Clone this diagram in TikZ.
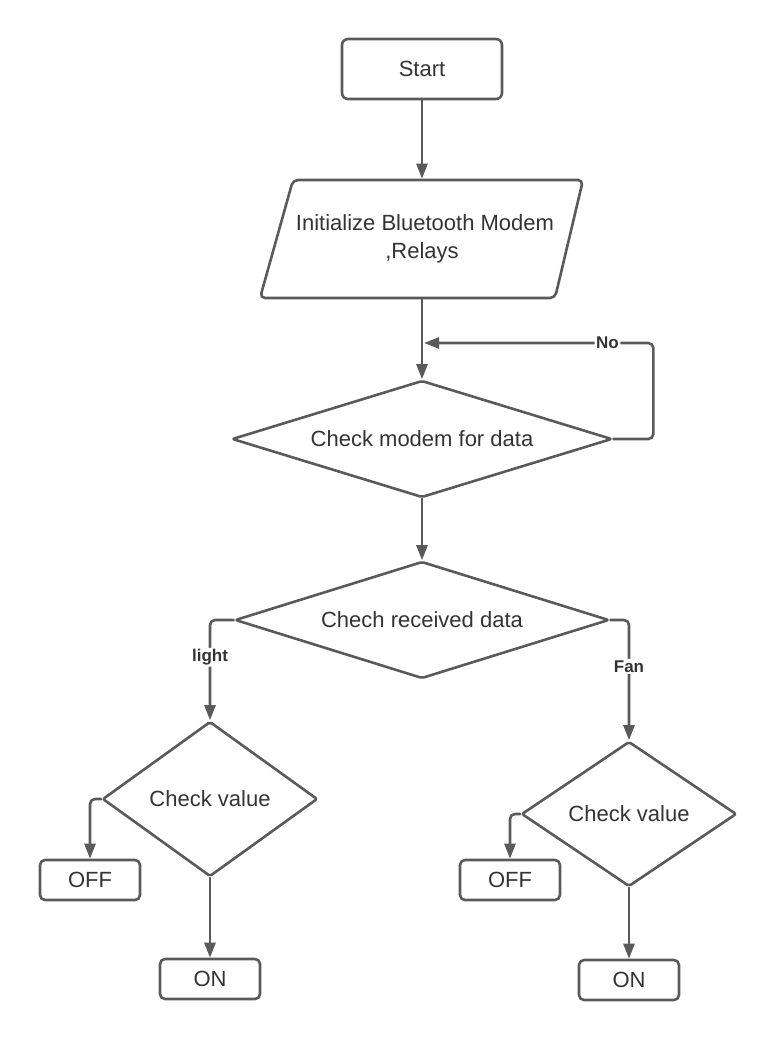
\documentclass[tikz,border=0pt]{standalone}
\usepackage{fontspec}
\setmainfont{Liberation Sans}
\usetikzlibrary{arrows.meta,shapes.geometric}
\definecolor{edge}{HTML}{5A5A5A}
\definecolor{ink}{HTML}{333333}
\tikzset{
  every picture/.style={line join=round, line cap=round, >={Triangle[length=15pt,width=11pt]}},
  base/.style={draw=edge, line width=2.6pt, text=ink, font=\fontsize{22}{28}\selectfont, align=center},
  term/.style={base, rectangle, rounded corners=6pt, minimum width=160pt, minimum height=60pt},
  outbox/.style={base, rectangle, rounded corners=5pt, minimum width=100pt, minimum height=40pt},
  io/.style={base, draw=none, rectangle, minimum width=290pt, minimum height=118pt},
  decide/.style={base, diamond, inner sep=0pt, rounded corners=2pt},
  flow/.style={draw=edge, line width=2.6pt, ->, rounded corners=5pt},
  lbl/.style={fill=white, text=ink, font=\bfseries\fontsize{17}{20}\selectfont, inner sep=1.5pt},
}

\begin{document}
\begin{tikzpicture}[x=1pt, y=-1pt]
\useasboundingbox (0,0) rectangle (780,1040);
% main column
\node[term] (start) at (422,69) {Start};
\node[io] (init) at (422,239) {\hspace*{6pt}Initialize Bluetooth Modem\\,Relays};
\draw[base, rounded corners=5pt] (293,180) -- (583,180) -- (555,298) -- (260,298) -- cycle;
\node[decide, minimum width=380pt, minimum height=117pt, aspect=3.25] (chk) at (422,439) {Check modem for data};
\node[decide, minimum width=374pt, minimum height=117pt, aspect=3.2] (rcv) at (422,620) {Chech received data};
% light branch
\node[decide, minimum width=215pt, minimum height=155pt, aspect=1.39] (chkL) at (210,799) {Check value};
\node[outbox] (offL) at (90,880) {OFF};
\node[outbox] (onL) at (210,979) {ON};
% fan branch
\node[decide, minimum width=215pt, minimum height=145pt, aspect=1.48] (chkR) at (629,814) {Check value};
\node[outbox] (offR) at (510,880) {OFF};
\node[outbox] (onR) at (629,980) {ON};
% connectors
\coordinate (back) at (424,343);
\draw[flow] (start) -- (init);
\draw[flow] (init) -- (chk);
\draw[flow] (chk.east) -- ++(40,0) |- node[lbl, pos=0.6] {No} (back);
\draw[flow] (chk) -- (rcv);
\draw[flow] (rcv.west) -| node[lbl, pos=0.686] {light} (chkL.north);
\draw[flow] (rcv.east) -| node[lbl, pos=0.693] {Fan} (chkR.north);
\draw[flow] (chkL.west) -| (offL.north);
\draw[flow] (chkL) -- (onL);
\draw[flow] (chkR.west) -| (offR.north);
\draw[flow] (chkR) -- (onR);
\end{tikzpicture}
\end{document}
